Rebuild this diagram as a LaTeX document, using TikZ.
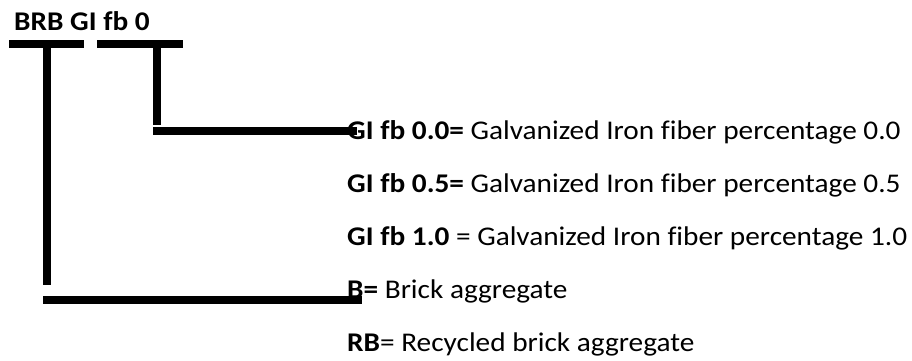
\documentclass[tikz,border=0pt]{standalone}
\usepackage{fontspec}
\usepackage{graphicx}
\setmainfont[Ligatures=CommonOff]{Carlito}
\newcommand{\wide}[1]{\scalebox{1.085}[1]{#1}}
\begin{document}
\begin{tikzpicture}[x=1pt,y=-1pt,
  lbl/.style={anchor=base west,inner sep=0pt,font=\fontsize{27}{32}\selectfont},
  bar/.style={line width=8pt},
  stem/.style={line width=8.5pt}]
\useasboundingbox (0,0) rectangle (912,361);

% code label and its legend
\node[lbl] (code) at (14,31) {\wide{\textbf{BRB GI fb 0}}};
\node[lbl] (gi0)  at (347,139) {\wide{\textbf{GI fb 0.0=} Galvanized Iron fiber percentage 0.0}};
\node[lbl] (gi5)  at (347,192) {\wide{\textbf{GI fb 0.5=} Galvanized Iron fiber percentage 0.5}};
\node[lbl] (gi1)  at (347,245) {\wide{\textbf{GI fb 1.0} = Galvanized Iron fiber percentage 1.0}};
\node[lbl] (brk)  at (347,298) {\wide{\textbf{B=} Brick aggregate}};
\node[lbl] (rbrk) at (347,351) {\wide{\textbf{RB}= Recycled brick aggregate}};

% brackets under the code parts
\coordinate (aggL) at (9,44.5);
\coordinate (aggR) at (84,44.5);
\coordinate (fibL) at (97,44.5);
\coordinate (fibR) at (183,44.5);
\draw[bar] (aggL) -- (aggR);
\draw[bar] (fibL) -- (fibR);

% leader from the fibre part
\coordinate (fibTop) at (157,48);
\coordinate (fibBot) at (157,125);
\draw[stem] (fibTop) -- (fibBot);
\coordinate (fibA) at (153,130.5);
\coordinate (fibB) at (357,130.5);
\draw[bar] (fibA) -- (fibB);

% leader from the aggregate part
\coordinate (aggTop) at (47,48);
\coordinate (aggBot) at (47,285);
\draw[stem] (aggTop) -- (aggBot);
\coordinate (aggA) at (43,299.5);
\coordinate (aggB) at (362,299.5);
\draw[bar] (aggA) -- (aggB);
\end{tikzpicture}
\end{document}
